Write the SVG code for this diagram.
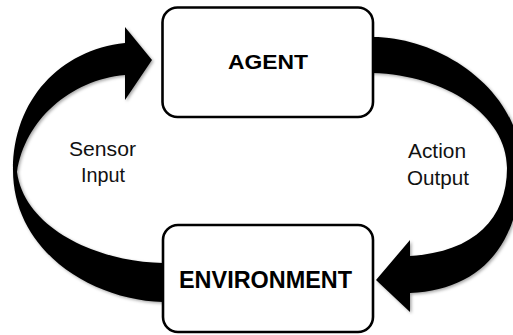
<svg xmlns="http://www.w3.org/2000/svg" width="513" height="335" viewBox="0 0 513 335">
<style>
.box{fill:#fff;stroke:#000;stroke-width:2.6}
.arrow{fill:#000;filter:url(#sh)}
.t{font-family:"Liberation Sans",Arial,sans-serif;fill:#111;text-anchor:middle}
.b{font-weight:bold;fill:#000}
</style>
<defs>
<filter id="sh" x="-10%" y="-10%" width="120%" height="120%">
<feDropShadow dx="1.5" dy="1.5" stdDeviation="1.5" flood-color="#000" flood-opacity="0.35"/>
</filter>
</defs>
<rect width="513" height="335" fill="#fff"/>
<g id="connectors">
<path id="sensor-arrow" class="arrow" d="M168,302 L163,302 C90,300 13,250 13,170 C13,100 60,50 125,43 L125,27 L152,60 L125,100 L125,75 C70,80 25,120 17,172 C25,230 100,262 163,263 L168,263 Z"/>
<path id="action-arrow" class="arrow" d="M368,37 L373,37 C440,37 521,90 521,165 C521,245 480,290 410,293 L410,312 L376,280 L410,240 L410,256 C475,252 507,218 507,168 C507,115 445,75 373,73 L368,73 Z"/>
<text class="t" x="102.5" y="156" font-size="20" textLength="67" lengthAdjust="spacingAndGlyphs">Sensor</text>
<text class="t" x="103" y="182" font-size="20" textLength="44" lengthAdjust="spacingAndGlyphs">Input</text>
<text class="t" x="437" y="158" font-size="20" textLength="58" lengthAdjust="spacingAndGlyphs">Action</text>
<text class="t" x="438" y="185" font-size="20" textLength="62" lengthAdjust="spacingAndGlyphs">Output</text>
</g>
<g id="agent">
<rect class="box" x="162.5" y="7.5" width="210.5" height="109.5" rx="15"/>
<text class="t b" x="268" y="69" font-size="21" textLength="80" lengthAdjust="spacingAndGlyphs">AGENT</text>
</g>
<g id="environment">
<rect class="box" x="163" y="225" width="210" height="107" rx="15"/>
<text class="t b" x="265.5" y="288" font-size="24" textLength="173" lengthAdjust="spacingAndGlyphs">ENVIRONMENT</text>
</g>
</svg>
